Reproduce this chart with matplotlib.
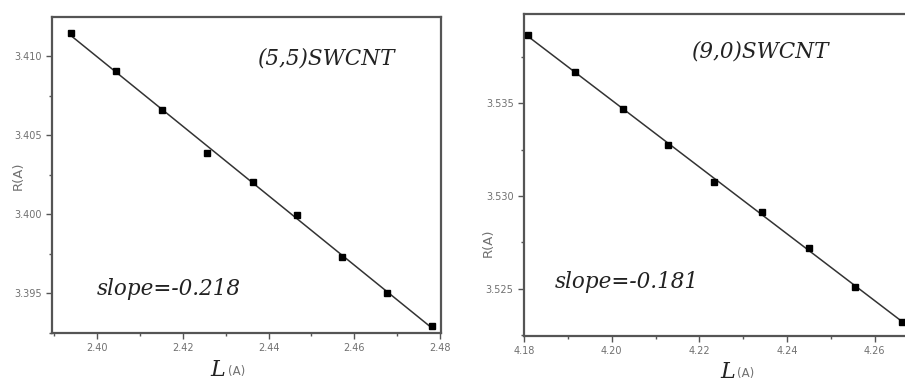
import numpy as np
import matplotlib
matplotlib.use("Agg")
import matplotlib.pyplot as plt
from matplotlib.ticker import MultipleLocator, FormatStrFormatter

# Left panel: (5,5) SWCNT
L55 = [2.3940, 2.4044, 2.4151, 2.4256, 2.4363, 2.4467, 2.4572, 2.4677, 2.4781]
R55 = [3.41146, 3.40905, 3.40658, 3.40386, 3.40203, 3.39994, 3.39728, 3.39500, 3.39291]
label55 = "(5,5)SWCNT"
slope55 = "slope=-0.218"

# Right panel: (9,0) SWCNT
L90 = [4.1809, 4.1917, 4.2025, 4.2129, 4.2234, 4.2343, 4.2451, 4.2556, 4.2662]
R90 = [3.53866, 3.53667, 3.53468, 3.53274, 3.53075, 3.52914, 3.52720, 3.52511, 3.52323]
label90 = "(9,0)SWCNT"
slope90 = "slope=-0.181"

fig = plt.figure(figsize=(9.05, 3.85), dpi=100)
ax1 = fig.add_axes([52/905, 1-333/385, (441-52)/905, (333-17)/385])
ax2 = fig.add_axes([524/905, 1-336/385, (908-524)/905, (336-14)/385])

spine_c = "#555555"
tick_c = "#707070"
serif = ["DejaVu Serif"]

def style(ax, xlim, ylim, xmaj, xmin, ymaj, ymin, xfmt, yfmt):
    ax.set_xlim(*xlim)
    ax.set_ylim(*ylim)
    ax.xaxis.set_major_locator(MultipleLocator(xmaj))
    ax.xaxis.set_minor_locator(MultipleLocator(xmin))
    ax.yaxis.set_major_locator(MultipleLocator(ymaj))
    ax.yaxis.set_minor_locator(MultipleLocator(ymin))
    ax.xaxis.set_major_formatter(FormatStrFormatter(xfmt))
    ax.yaxis.set_major_formatter(FormatStrFormatter(yfmt))
    for s in ax.spines.values():
        s.set_color(spine_c)
        s.set_linewidth(1.6)
    ax.tick_params(which="both", direction="out", colors=spine_c, labelcolor=tick_c,
                   labelsize=7, top=False, right=False)
    ax.tick_params(which="major", length=4, width=1)
    ax.tick_params(which="minor", length=2.5, width=1)

def panel(ax, L, R, label, slope, label_xy, slope_xy, ylab_xy):
    L = np.array(L); R = np.array(R)
    p = np.polyfit(L, R, 1)
    ax.plot(L, np.polyval(p, L), color="#333333", lw=1.1, zorder=2)
    ax.plot(L, R, linestyle="none", marker="s", ms=5, color="black", zorder=3)
    ax.text(*label_xy, label, transform=ax.transAxes, family=serif,
            style="italic", fontsize=15.5, color="#222222", ha="center", va="center")
    ax.text(*slope_xy, slope, transform=ax.transAxes, family=serif,
            style="italic", fontsize=15.5, color="#222222", ha="left", va="center")
    ax.set_ylabel("R(A)", fontsize=9.5, color=tick_c)
    ax.yaxis.set_label_coords(*ylab_xy)

style(ax1, (2.3895, 2.4802), (3.39247, 3.41247), 0.02, 0.01, 0.005, 0.0025, "%.2f", "%.3f")
style(ax2, (4.18, 4.2676), (3.52247, 3.53979), 0.02, 0.01, 0.005, 0.0025, "%.2f", "%.3f")

panel(ax1, L55, R55, label55, slope55, (0.705, 0.87), (0.115, 0.14), (-0.069, 0.497))
panel(ax2, L90, R90, label90, slope90, (0.615, 0.885), (0.08, 0.167), (-0.0755, 0.29))

# x labels: italic serif L + small (A)
for ax, lx, ly in ((ax1, (210 - 52) / 389, (370 - 333) / 316),
                   (ax2, (720 - 524) / 384, (372 - 336) / 322)):
    ax.text(lx, -ly, "L", transform=ax.transAxes, family=serif,
            style="italic", fontsize=16, color="#222222", ha="left", va="center")
    ax.text(lx + 0.045, -ly - 0.005, "(A)", transform=ax.transAxes, fontsize=8.5,
            color=tick_c, ha="left", va="center")

fig.savefig("out.png", dpi=100)
